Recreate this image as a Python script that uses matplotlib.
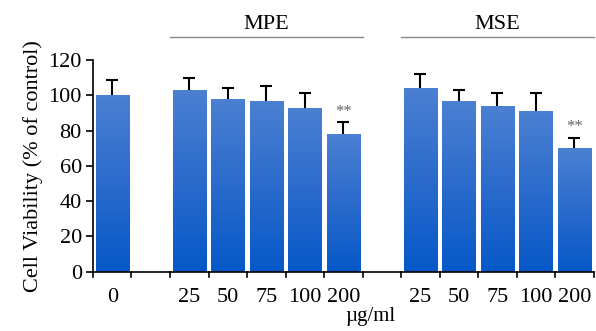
import numpy as np
import matplotlib
matplotlib.use("Agg")
import matplotlib.pyplot as plt
from matplotlib.colors import LinearSegmentedColormap

labels = ["0", "", "25", "50", "75", "100", "200", "", "25", "50", "75", "100", "200"]
values = [100, None, 103, 98, 97, 93, 78, None, 104, 97, 94, 91, 70]
errors = [8.5, None, 7, 6, 8, 8, 7, None, 8, 6, 7, 10, 6]
stars = ["", "", "", "", "", "", "**", "", "", "", "", "", "**"]
groups = [("MPE", 2, 6), ("MSE", 8, 12)]

plt.rcParams['font.family'] = ['Liberation Serif', 'DejaVu Serif']

fig = plt.figure(figsize=(5.96, 3.31), dpi=100)
ax = fig.add_axes([0.156, 0.179, 0.84, 0.64])

cmap = LinearSegmentedColormap.from_list("g", ["#0658c8", "#2a6bcc", "#4b80d2"])
x = np.arange(len(labels))
for xi, v, e, s in zip(x, values, errors, stars):
    if v is None:
        continue
    b = ax.bar(xi, v, width=0.86, color="#2b6bcb", edgecolor="none", zorder=2)[0]
    grad = np.linspace(0, 1, 256).reshape(-1, 1)
    im = ax.imshow(grad, extent=[xi - 0.43, xi + 0.43, 0, v], origin="lower",
                   aspect="auto", cmap=cmap, zorder=2.5)
    im.set_clip_path(b)
    ax.errorbar(xi, v, yerr=[[0], [e]], fmt="none", ecolor="black",
                elinewidth=1.5, capsize=0, zorder=3)
    ax.plot([xi], [v + e], marker="_", markersize=8, markeredgewidth=1.5,
            color="black", zorder=3)
    if s:
        ax.text(xi, v + e + 1.2, s, ha="center", va="bottom", fontsize=12,
                color="#666666")

ax.set_xlim(-0.5, 12.5)
ax.set_ylim(0, 120)
ax.set_yticks(range(0, 121, 20))
ax.set_xticks(x)
ax.set_xticklabels(labels)
ax.tick_params(axis="x", length=0, pad=12, labelsize=16)
ax.tick_params(axis="y", direction="out", length=5, width=1.2, labelsize=16, pad=3)
for xb in np.arange(-0.5, 12.6, 1.0):
    ax.plot([xb, xb], [0, -3], color="black", lw=1.2, clip_on=False)

for sp in ["top", "right"]:
    ax.spines[sp].set_visible(False)
ax.spines["left"].set_linewidth(1.2)
ax.spines["bottom"].set_linewidth(1.2)
ax.set_ylabel("Cell Viability (% of control)", fontsize=16, labelpad=4)
fig.text(370 / 596, 1 - 317 / 331, "µg/ml", ha="center", va="center", fontsize=15)

for name, a, bidx in groups:
    ax.plot([a - 0.5, bidx + 0.5], [133, 133], color="#888888", lw=1, clip_on=False)
    ax.text((a + bidx) / 2, 140, name, ha="center", va="center", fontsize=16)

fig.savefig("out.png", dpi=100)
